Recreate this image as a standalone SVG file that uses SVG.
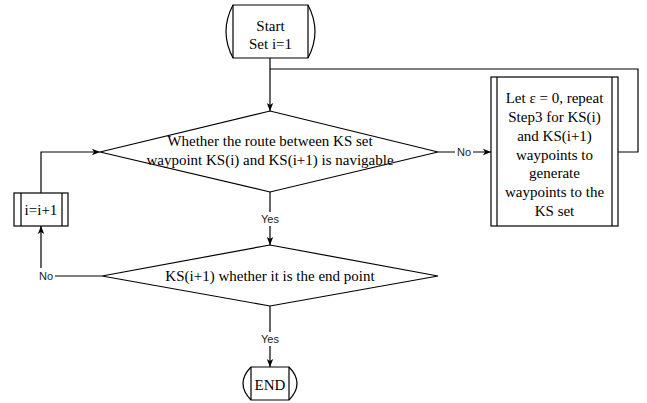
<svg xmlns="http://www.w3.org/2000/svg" width="647" height="403" viewBox="0 0 647 403">
<style>
.s{fill:#fff;stroke:#000;stroke-width:1.2}
.l{fill:none;stroke:#000;stroke-width:1.2}
.t{font-family:"Liberation Serif",serif;font-size:15px;fill:#000;text-anchor:middle}
.lb{font-family:"Liberation Sans",Arial,sans-serif;font-size:11px;fill:#222;text-anchor:middle}
</style>
<defs>
<marker id="a" markerUnits="userSpaceOnUse" markerWidth="10" markerHeight="8" refX="8" refY="4" orient="auto">
<path d="M0,0.8 L8,4 L0,7.2 L2,4 Z" fill="#000"/>
</marker>
</defs>
<rect width="647" height="403" fill="#fff"/>
<g id="connectors">
<path class="l" d="M270,58 V111" marker-end="url(#a)"/>
<path class="l" d="M618,152 H638 V69 H270"/>
<path class="l" d="M438,152 H491" marker-end="url(#a)"/>
<path class="l" d="M270,192 V245" marker-end="url(#a)"/>
<path class="l" d="M102,276 H41 V226" marker-end="url(#a)"/>
<path class="l" d="M41,193 V152 H100" marker-end="url(#a)"/>
<path class="l" d="M270,306 V367" marker-end="url(#a)"/>
<rect x="455" y="145" width="18" height="14" fill="#fff"/>
<text class="lb" x="464" y="156">No</text>
<rect x="260" y="212" width="20" height="14" fill="#fff"/>
<text class="lb" x="270" y="223">Yes</text>
<rect x="37" y="268" width="18" height="16" fill="#fff"/>
<text class="lb" x="46" y="280">No</text>
<rect x="260" y="332" width="20" height="14" fill="#fff"/>
<text class="lb" x="270" y="343">Yes</text>
</g>
<g id="start">
<path class="s" d="M233,5 H308 Q322,31.5 308,58 H233 Q219,31.5 233,5 Z"/>
<path class="l" d="M233,5 V58 M308,5 V58"/>
<text class="t" x="270.5" y="31">Start</text>
<text class="t" x="270.5" y="49">Set i=1</text>
</g>
<g id="decision1">
<polygon class="s" points="270,111 438,152 270,192 100,152"/>
<text class="t" x="270" y="146">Whether the route between KS set</text>
<text class="t" x="270" y="165">waypoint KS(i) and KS(i+1) is navigable</text>
</g>
<g id="generate">
<rect class="s" x="491" y="77" width="127" height="149"/>
<path class="l" d="M497,77 V226 M612,77 V226"/>
<text class="t" x="554.5" y="103">Let ε = 0, repeat</text>
<text class="t" x="554.5" y="122">Step3 for KS(i)</text>
<text class="t" x="554.5" y="141">and KS(i+1)</text>
<text class="t" x="554.5" y="160">waypoints to</text>
<text class="t" x="554.5" y="178">generate</text>
<text class="t" x="554.5" y="197">waypoints to the</text>
<text class="t" x="554.5" y="216">KS set</text>
</g>
<g id="increment">
<rect class="s" x="14" y="193" width="54" height="33"/>
<path class="l" d="M21,193 V226 M62,193 V226"/>
<text class="t" x="41" y="215">i=i+1</text>
</g>
<g id="decision2">
<polygon class="s" points="270,245 438,276 270,306 102,276"/>
<text class="t" x="270" y="281">KS(i+1) whether it is the end point</text>
</g>
<g id="end">
<path class="s" d="M251,367 H289 Q305,383.5 289,400 H251 Q235,383.5 251,367 Z"/>
<path class="l" d="M251,367 V400 M289,367 V400"/>
<text class="t" x="270" y="390">END</text>
</g>
</svg>
